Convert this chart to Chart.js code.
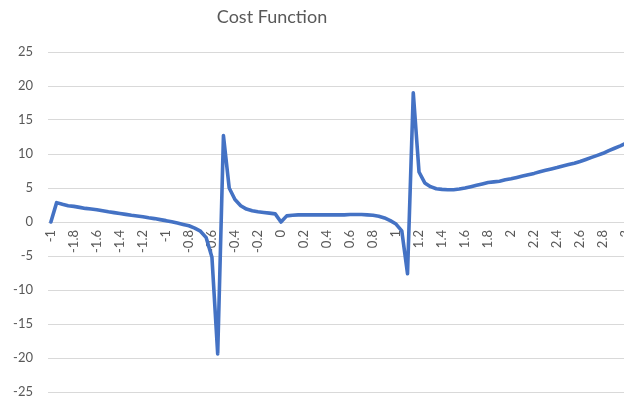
<!DOCTYPE html>
<html>
<head>
<meta charset="utf-8">
<script src="https://cdn.jsdelivr.net/npm/chart.js@4/dist/chart.umd.min.js"></script>
<style>
  html, body { margin: 0; padding: 0; background: #ffffff; overflow: hidden; }
  #frame { position: relative; width: 624px; height: 398px; overflow: hidden; }
  #title {
    position: absolute; left: 0; width: 544px; top: 5px; text-align: center;
    font-family: Lato, "Open Sans", sans-serif; font-size: 18px; color: #595959;
  }
  #plot { position: absolute; left: 0; top: 0; }
</style>
</head>
<body>
<div id="frame">
  <canvas id="plot" width="652" height="398"></canvas>
  <div id="title">Cost Function</div>
</div>
<script>
// x values of the sampled cost function (step 0.05)
const categories = [
  "-2","-1.95","-1.9","-1.85","-1.8","-1.75","-1.7","-1.65","-1.6","-1.55",
  "-1.5","-1.45","-1.4","-1.35","-1.3","-1.25","-1.2","-1.15","-1.1","-1.05",
  "-1","-0.95","-0.9","-0.85","-0.8","-0.75","-0.7","-0.65","-0.6","-0.55",
  "-0.5","-0.45","-0.4","-0.35","-0.3","-0.25","-0.2","-0.15","-0.1","-0.05",
  "0","0.05","0.1","0.15","0.2","0.25","0.3","0.35","0.4","0.45",
  "0.5","0.55","0.6","0.65","0.7","0.75","0.8","0.85","0.9","0.95",
  "1","1.05","1.1","1.15","1.2","1.25","1.3","1.35","1.4","1.45",
  "1.5","1.55","1.6","1.65","1.7","1.75","1.8","1.85","1.9","1.95",
  "2","2.05","2.1","2.15","2.2","2.25","2.3","2.35","2.4","2.45",
  "2.5","2.55","2.6","2.65","2.7","2.75","2.8","2.85","2.9","2.95",
  "3","3.05","3.1","3.15","3.2"
];

// cost value at each x
const costValues = [
  0, 2.85, 2.6, 2.4, 2.3, 2.15, 2.0, 1.9, 1.8, 1.65,
  1.5, 1.38, 1.25, 1.12, 0.98, 0.88, 0.78, 0.62, 0.5, 0.35,
  0.2, 0.02, -0.15, -0.35, -0.55, -0.9, -1.35, -2.3, -5.2, -19.4,
  12.7, 5.0, 3.3, 2.4, 1.9, 1.65, 1.5, 1.4, 1.3, 1.2,
  0.0, 0.9, 1.0, 1.05, 1.05, 1.05, 1.05, 1.05, 1.05, 1.05,
  1.05, 1.05, 1.1, 1.1, 1.1, 1.05, 1.0, 0.85, 0.6, 0.2,
  -0.3, -1.3, -7.6, 19.0, 7.35, 5.75, 5.2, 4.9, 4.8, 4.75,
  4.75, 4.85, 5.0, 5.2, 5.4, 5.6, 5.8, 5.9, 6.0, 6.2,
  6.35, 6.55, 6.75, 6.95, 7.15, 7.4, 7.6, 7.8, 8.0, 8.25,
  8.45, 8.65, 8.9, 9.2, 9.5, 9.8, 10.1, 10.5, 10.85, 11.2,
  11.6, 12.0, 12.4, 12.8, 13.2
];

// labels shown on every fourth category
const xTickLabels = [
  "-1","-1.8","-1.6","-1.4","-1.2","-1","-0.8","-0.6","-0.4","-0.2",
  "0","0.2","0.4","0.6","0.8","1","1.2","1.4","1.6","1.8",
  "2","2.2","2.4","2.6","2.8","3","3.2"
];

const yMin = -25, yMax = 25, yStep = 5;

const grey = "#595959";
const gridGrey = "#d9d9d9";
const fontFamily = "Lato, 'Open Sans', sans-serif";

// keep the plot area fixed by the layout padding alone
function clearScalePadding(scale) {
  scale.paddingLeft = 0;
  scale.paddingRight = 0;
  scale.paddingTop = 0;
  scale.paddingBottom = 0;
}

new Chart(document.getElementById("plot"), {
  type: "line",
  data: {
    labels: categories,
    datasets: [{
      data: costValues,
      borderColor: "#4472c4",
      borderWidth: 3.6,
      pointRadius: 0,
      tension: 0,
      borderJoinStyle: "round",
      borderCapStyle: "round",
      fill: false
    }]
  },
  options: {
    responsive: false,
    devicePixelRatio: 1,
    animation: false,
    layout: { padding: { top: 52, bottom: 6, left: 0, right: 0 } },
    plugins: { legend: { display: false }, title: { display: false }, tooltip: { enabled: false } },
    scales: {
      x: {
        type: "category",
        offset: true,
        position: { y: 0 },
        afterFit: (scale) => { clearScalePadding(scale); scale.height = 0; },
        grid: { display: false, drawTicks: false },
        border: { display: true, color: gridGrey, width: 1 },
        ticks: {
          autoSkip: false,
          minRotation: 90,
          maxRotation: 90,
          padding: 8,
          color: grey,
          font: { family: fontFamily, size: 13 },
          callback: (v, i) => (i % 4 === 0 ? xTickLabels[i / 4] : "")
        }
      },
      y: {
        min: yMin,
        max: yMax,
        afterFit: (scale) => { clearScalePadding(scale); scale.width = 48; },
        grid: { color: gridGrey, lineWidth: 1, drawTicks: false },
        border: { display: false },
        ticks: {
          stepSize: yStep,
          padding: 15,
          color: grey,
          font: { family: fontFamily, size: 13 }
        }
      }
    }
  }
});
</script>
</body>
</html>
